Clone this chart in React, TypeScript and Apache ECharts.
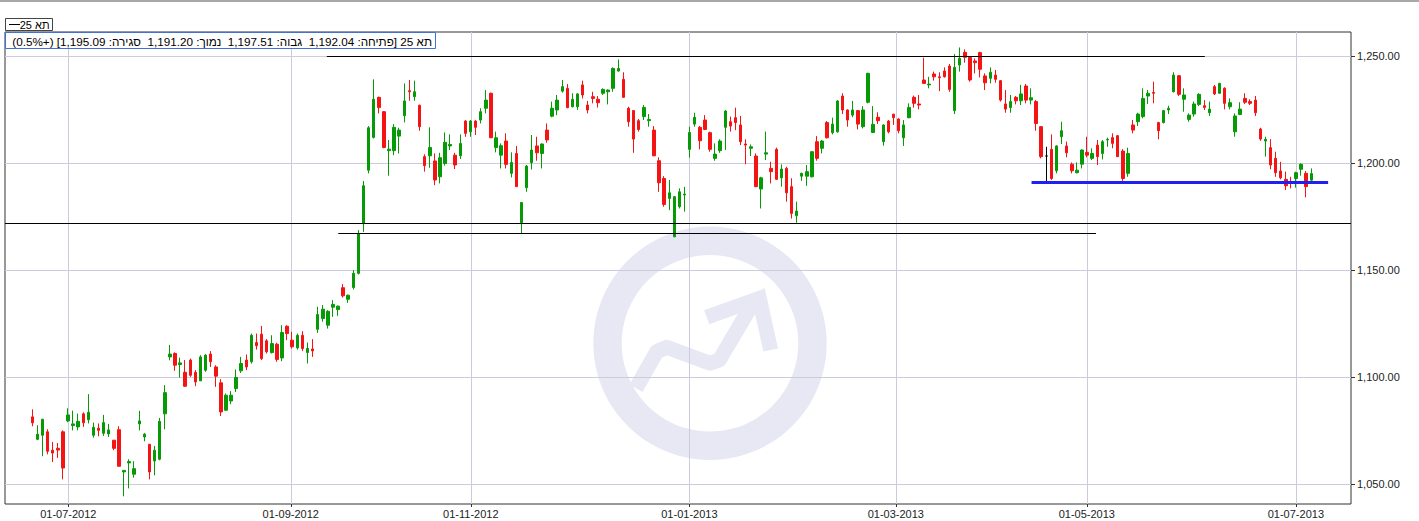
import React, { useEffect, useRef } from 'react';
import * as echarts from 'echarts';

// ---- Data (TA-25 daily candles) ----
const seriesName = 'תא 25';

const opens = [
  1081.5, 1071.0, 1072.9, 1074.5, 1065.9, 1066.8, 1074.5, 1079.6, 1077.4, 1076.8,
  1082.9, 1080.1, 1072.9, 1076.2, 1073.8, 1073.5, 1070.6, 1075.5, 1055.8, 1060.0,
  1054.7, 1078.2, 1072.1, 1068.7, 1060.9, 1061.7, 1082.9, 1109.5, 1111.1, 1105.9,
  1102.3, 1108.0, 1102.3, 1098.3, 1103.3, 1110.8, 1104.8, 1097.4, 1084.6, 1088.9,
  1094.7, 1103.0, 1108.0, 1107.2, 1116.2, 1120.1, 1117.0, 1111.5, 1115.4, 1109.0,
  1123.8, 1117.3, 1113.7, 1119.6, 1111.5, 1113.2, 1122.4, 1127.4, 1124.3, 1132.7,
  1131.6, 1141.8, 1136.4, 1141.9, 1148.5, 1171.8, 1196.7, 1212.0, 1230.7, 1224.0,
  1205.8, 1205.8, 1212.6, 1222.1, 1233.8, 1231.0, 1227.0, 1203.0, 1203.4, 1201.0,
  1193.6, 1199.8, 1208.0, 1203.7, 1203.4, 1219.6, 1214.6, 1219.6, 1220.1, 1225.6,
  1232.6, 1207.3, 1203.7, 1210.3, 1195.2, 1204.5, 1172.1, 1188.5, 1200.2, 1208.0,
  1204.5, 1215.4, 1221.9, 1224.8, 1233.6, 1234.9, 1226.3, 1226.3, 1236.5, 1227.1,
  1231.0, 1229.8, 1232.6, 1233.3, 1234.9, 1243.0, 1239.1, 1225.6, 1224.5, 1219.8,
  1221.7, 1219.8, 1215.4, 1201.1, 1192.8, 1183.5, 1165.6, 1179.6, 1185.1, 1206.4,
  1218.2, 1216.7, 1220.1, 1214.2, 1202.2, 1205.8, 1216.7, 1219.3, 1221.2, 1217.8,
  1208.9, 1206.9, 1203.3, 1187.9, 1204.2, 1197.5, 1206.4, 1193.1, 1197.5, 1189.0,
  1175.4, 1193.9, 1193.9, 1193.6, 1210.0, 1206.9, 1218.9, 1214.2, 1214.6, 1231.3,
  1224.8, 1222.4, 1224.5, 1217.0, 1228.4, 1214.3, 1221.4, 1210.0, 1219.6, 1222.8,
  1220.6, 1211.8, 1221.2, 1230.7, 1227.6, 1238.8, 1236.5, 1241.6, 1240.3, 1243.0,
  1245.3, 1224.5, 1245.8, 1251.7, 1249.4, 1247.7, 1251.6, 1240.7, 1239.6, 1241.1,
  1238.5, 1227.6, 1225.9, 1230.7, 1229.1, 1236.0, 1229.4, 1228.7, 1217.0, 1203.3,
  1206.4, 1196.4, 1212.3, 1208.0, 1199.5, 1195.5, 1199.5, 1205.0, 1202.2, 1208.4,
  1204.5, 1210.8, 1211.9, 1212.8, 1205.6, 1195.2, 1217.8, 1219.3, 1221.7, 1231.3,
  1233.0, 1218.9, 1218.9, 1224.8, 1233.3, 1240.8, 1229.8, 1220.4, 1222.9, 1227.4,
  1226.8, 1223.5, 1235.7, 1232.6, 1234.9, 1226.3, 1214.6, 1222.7, 1230.2, 1228.7,
  1229.4, 1215.9, 1210.3, 1207.2, 1202.2, 1196.3, 1192.4, 1191.3, 1192.8, 1197.1,
  1195.2, 1192.04,
];

const closes = [
  1078.7, 1073.4, 1080.4, 1065.4, 1064.6, 1066.0, 1057.6, 1082.4, 1078.2, 1079.4,
  1078.7, 1083.6, 1076.6, 1075.2, 1078.8, 1075.4, 1066.8, 1058.4, 1056.5, 1060.6,
  1057.3, 1079.6, 1073.4, 1055.8, 1065.9, 1079.4, 1092.8, 1110.8, 1105.6, 1106.7,
  1095.8, 1100.9, 1097.8, 1109.5, 1110.3, 1107.2, 1100.5, 1083.8, 1091.6, 1091.6,
  1099.9, 1106.4, 1104.8, 1119.6, 1114.7, 1108.7, 1111.9, 1115.7, 1108.3, 1120.9,
  1120.4, 1114.2, 1119.6, 1113.4, 1113.4, 1112.3, 1129.3, 1131.8, 1130.8, 1134.0,
  1133.2, 1138.0, 1138.3, 1148.5, 1167.1, 1189.4, 1216.5, 1229.8, 1225.9, 1207.3,
  1206.5, 1216.7, 1215.4, 1229.0, 1233.3, 1233.3, 1217.0, 1198.8, 1207.3, 1192.1,
  1202.5, 1209.7, 1208.7, 1199.1, 1209.2, 1213.9, 1219.6, 1216.7, 1224.0, 1229.4,
  1211.8, 1211.8, 1208.1, 1199.4, 1200.3, 1189.0, 1181.6, 1198.6, 1206.1, 1204.8,
  1208.9, 1210.8, 1225.6, 1229.4, 1235.7, 1225.9, 1229.8, 1232.3, 1231.8, 1224.8,
  1230.2, 1228.2, 1234.4, 1234.1, 1244.2, 1244.2, 1230.7, 1219.3, 1211.2, 1215.7,
  1226.0, 1220.4, 1203.4, 1190.8, 1180.7, 1186.1, 1184.3, 1186.6, 1185.5, 1214.3,
  1221.4, 1210.4, 1215.7, 1206.4, 1204.2, 1210.3, 1224.3, 1217.3, 1218.9, 1210.0,
  1208.4, 1207.6, 1189.0, 1193.1, 1204.8, 1196.0, 1192.4, 1197.2, 1186.1, 1176.5,
  1177.6, 1195.2, 1196.0, 1205.3, 1202.2, 1210.3, 1211.8, 1218.2, 1229.0, 1224.8,
  1220.1, 1224.8, 1218.2, 1224.8, 1241.9, 1218.1, 1219.8, 1217.8, 1214.6, 1221.2,
  1215.1, 1217.8, 1226.0, 1227.9, 1227.1, 1237.2, 1236.9, 1240.3, 1239.9, 1240.3,
  1234.4, 1244.7, 1248.9, 1249.4, 1238.8, 1246.9, 1243.8, 1237.5, 1242.4, 1239.1,
  1229.4, 1225.2, 1228.7, 1229.1, 1232.3, 1229.4, 1230.5, 1218.5, 1203.0, 1203.3,
  1192.8, 1208.0, 1215.1, 1204.8, 1196.4, 1196.7, 1206.1, 1203.7, 1204.5, 1203.0,
  1210.0, 1211.1, 1209.2, 1203.0, 1192.8, 1204.5, 1215.4, 1222.9, 1230.2, 1232.6,
  1232.6, 1215.1, 1224.5, 1225.6, 1241.1, 1232.1, 1231.8, 1222.4, 1227.6, 1232.1,
  1226.0, 1225.2, 1232.3, 1237.2, 1227.9, 1228.2, 1222.0, 1225.2, 1228.4, 1227.9,
  1223.5, 1211.2, 1211.1, 1199.1, 1195.5, 1193.1, 1189.4, 1190.5, 1195.5, 1199.4,
  1189.0, 1195.09,
];

const lows = [
  1077.1, 1070.6, 1063.1, 1064.0, 1060.4, 1062.3, 1052.3, 1079.0, 1075.2, 1075.2,
  1076.8, 1078.4, 1071.8, 1072.4, 1072.6, 1072.1, 1065.9, 1058.4, 1044.4, 1048.1,
  1053.1, 1075.2, 1070.1, 1052.3, 1054.2, 1061.2, 1075.7, 1107.9, 1103.0, 1099.8,
  1095.5, 1100.2, 1095.8, 1098.3, 1102.5, 1104.8, 1095.5, 1081.9, 1084.3, 1087.4,
  1093.1, 1102.0, 1103.3, 1106.4, 1112.9, 1108.0, 1111.1, 1111.1, 1107.2, 1107.5,
  1117.3, 1113.4, 1112.9, 1112.2, 1106.4, 1109.5, 1120.7, 1125.9, 1122.7, 1128.2,
  1128.7, 1137.2, 1134.7, 1141.0, 1148.0, 1167.9, 1195.2, 1211.5, 1223.2, 1206.9,
  1194.1, 1203.7, 1204.5, 1219.0, 1229.1, 1229.1, 1215.1, 1196.0, 1197.8, 1189.7,
  1190.5, 1198.8, 1206.1, 1197.2, 1201.9, 1212.3, 1212.3, 1213.1, 1218.5, 1223.2,
  1211.8, 1205.0, 1197.5, 1197.5, 1193.3, 1189.0, 1167.1, 1186.6, 1197.0, 1201.1,
  1197.5, 1209.5, 1221.4, 1222.4, 1232.9, 1225.6, 1226.0, 1224.8, 1230.2, 1223.2,
  1227.9, 1225.9, 1231.8, 1227.4, 1233.3, 1242.7, 1230.5, 1217.0, 1204.8, 1214.7,
  1220.1, 1217.0, 1203.2, 1186.6, 1179.6, 1178.0, 1165.4, 1178.8, 1177.3, 1202.5,
  1217.0, 1206.4, 1215.4, 1205.3, 1201.1, 1204.8, 1206.1, 1214.7, 1215.4, 1208.4,
  1199.5, 1203.3, 1188.8, 1178.8, 1201.4, 1190.5, 1192.1, 1189.0, 1182.0, 1174.1,
  1172.1, 1191.7, 1189.4, 1193.3, 1201.1, 1204.5, 1211.5, 1213.4, 1214.2, 1222.9,
  1217.0, 1221.4, 1215.7, 1216.2, 1227.9, 1214.2, 1218.2, 1208.1, 1213.9, 1217.8,
  1213.9, 1208.0, 1220.9, 1225.9, 1225.1, 1237.0, 1234.9, 1238.5, 1233.6, 1239.9,
  1233.3, 1222.9, 1242.7, 1246.9, 1238.0, 1241.9, 1240.0, 1234.1, 1237.2, 1237.5,
  1228.7, 1223.5, 1223.5, 1227.4, 1227.1, 1227.9, 1227.4, 1215.1, 1202.2, 1190.8,
  1192.1, 1195.2, 1208.9, 1202.7, 1195.2, 1195.2, 1197.5, 1202.7, 1201.4, 1199.1,
  1201.7, 1207.6, 1206.9, 1203.0, 1191.7, 1193.6, 1213.9, 1217.3, 1220.9, 1227.6,
  1227.9, 1211.1, 1218.5, 1222.9, 1233.0, 1231.3, 1224.0, 1219.3, 1221.7, 1226.6,
  1224.8, 1222.0, 1231.8, 1232.3, 1225.1, 1225.1, 1212.3, 1222.4, 1227.6, 1227.1,
  1222.0, 1210.4, 1203.0, 1197.1, 1193.6, 1192.4, 1187.4, 1188.2, 1188.5, 1194.1,
  1184.0, 1191.2,
];

const highs = [
  1085.0, 1077.6, 1080.4, 1075.7, 1069.8, 1069.3, 1075.2, 1085.5, 1084.4, 1083.0,
  1083.6, 1092.1, 1078.8, 1078.4, 1082.4, 1078.2, 1070.6, 1077.1, 1056.5, 1061.7,
  1060.8, 1084.3, 1074.0, 1068.7, 1067.9, 1081.0, 1096.3, 1115.1, 1111.6, 1109.2,
  1108.0, 1108.7, 1103.3, 1110.3, 1110.8, 1112.2, 1105.6, 1099.1, 1092.4, 1093.5,
  1103.6, 1109.5, 1110.6, 1120.4, 1120.4, 1124.0, 1117.8, 1119.6, 1116.1, 1124.3,
  1124.3, 1121.2, 1120.4, 1121.5, 1116.2, 1117.8, 1132.9, 1133.7, 1131.3, 1136.0,
  1133.5, 1143.5, 1138.6, 1150.0, 1168.7, 1191.6, 1217.3, 1239.1, 1231.0, 1224.3,
  1210.8, 1218.2, 1216.5, 1237.2, 1238.8, 1238.5, 1227.3, 1204.1, 1216.7, 1204.5,
  1204.8, 1214.3, 1213.4, 1204.8, 1213.4, 1220.1, 1220.1, 1220.1, 1225.6, 1234.1,
  1232.9, 1214.7, 1209.2, 1213.9, 1205.0, 1208.0, 1181.6, 1199.1, 1213.1, 1212.3,
  1209.2, 1218.5, 1228.7, 1231.8, 1238.8, 1236.9, 1232.6, 1232.6, 1238.5, 1229.0,
  1233.3, 1231.3, 1234.9, 1234.4, 1244.7, 1248.4, 1242.4, 1226.3, 1224.8, 1220.6,
  1227.1, 1222.9, 1217.3, 1202.7, 1193.9, 1192.1, 1184.6, 1188.2, 1188.9, 1217.0,
  1223.5, 1217.3, 1222.4, 1214.7, 1209.2, 1211.1, 1224.8, 1221.7, 1225.9, 1222.0,
  1211.1, 1208.7, 1204.5, 1193.6, 1214.7, 1200.6, 1207.2, 1199.4, 1198.3, 1192.9,
  1182.0, 1195.5, 1199.1, 1205.6, 1212.6, 1210.8, 1219.6, 1221.2, 1229.4, 1232.6,
  1225.1, 1229.0, 1224.8, 1226.6, 1242.2, 1226.6, 1223.7, 1218.1, 1220.1, 1223.1,
  1220.9, 1220.1, 1227.9, 1231.5, 1231.8, 1249.2, 1240.3, 1242.7, 1242.4, 1244.7,
  1246.3, 1250.9, 1254.0, 1253.1, 1249.7, 1248.9, 1252.0, 1241.9, 1244.7, 1243.5,
  1238.8, 1234.1, 1231.8, 1231.3, 1236.5, 1236.9, 1234.9, 1229.4, 1217.3, 1207.6,
  1213.4, 1208.3, 1219.3, 1210.0, 1200.3, 1200.3, 1206.4, 1212.3, 1206.9, 1210.8,
  1210.8, 1211.9, 1213.9, 1213.1, 1206.5, 1207.2, 1220.1, 1223.5, 1234.9, 1234.1,
  1238.0, 1219.3, 1224.8, 1226.8, 1242.4, 1241.1, 1234.9, 1223.2, 1228.7, 1232.6,
  1229.4, 1228.7, 1236.5, 1237.5, 1235.4, 1230.2, 1223.2, 1228.4, 1232.6, 1229.8,
  1231.3, 1216.5, 1212.3, 1211.2, 1205.3, 1200.6, 1196.0, 1193.6, 1196.0, 1199.9,
  1196.3, 1197.51,
];

// candle drawn in black (marked bar)
const markedCandle = 199;

// x-axis date labels and where they fall on the trading-day index
const xTickLabels = ['01-07-2012', '01-09-2012', '01-11-2012', '01-01-2013', '01-03-2013', '01-05-2013', '01-07-2013'];
const xTickIndex = [7.07, 50.72, 86.05, 128.95, 169.46, 206.95, 247.97];

// y-axis tick values
const yTicks = [1050, 1100, 1150, 1200, 1250];

// drawn trend / support lines: [fromIndex, toIndex, level]
const resistanceLine = [57.8, 230.1, 1249.8];
const supportLineA = [-5.36, 258.79, 1172.0];
const supportLineB = [60.05, 208.75, 1167.1];
const blueSupport = [196.1, 254.3, 1191.0];

const fmt = (v: number) =>
  v.toLocaleString('en-US', { minimumFractionDigits: 2, maximumFractionDigits: 2 });

export default function App() {
  const ref = useRef<HTMLDivElement>(null);

  useEffect(() => {
    document.body.style.margin = '0';
    const chart = echarts.init(ref.current!, null, { renderer: 'svg', width: 1419, height: 521 });

    const UP = '#069a06';
    const DOWN = '#f41414';
    const data = opens.map((o, i) => {
      const v = [i, o, closes[i], lows[i], highs[i]];
      if (i === markedCandle) {
        return {
          value: v,
          itemStyle: { color: '#000', color0: '#000', borderColor: '#000', borderColor0: '#000' },
        };
      }
      return v;
    });

    const n = opens.length;
    const lo = opens[n - 1], hi = highs[n - 1], lw = lows[n - 1], cl = closes[n - 1];
    const chg = ((cl / closes[n - 2] - 1) * 100).toFixed(1);
    const infoText = `${seriesName} [פתיחה: ${fmt(lo)}  גבוה: ${fmt(hi)}  נמוך: ${fmt(lw)}  סגירה: ${fmt(cl)}] (+${chg}%)`;

    const wm = '#e8e8f4';
    const font = '11px Arial, "Liberation Sans", sans-serif';
    const legendFont = '11.7px Arial, "Liberation Sans", sans-serif';

    const lineItem = (l: number[], style: any) => [
      { coord: [l[0], l[2]], lineStyle: style },
      { coord: [l[1], l[2]] },
    ];

    chart.setOption({
      animation: false,
      backgroundColor: '#ffffff',
      grid: {
        left: 5,
        right: 68,
        top: 32,
        bottom: 17,
        show: true,
        borderColor: '#333',
        borderWidth: 1,
        backgroundColor: 'transparent',
      },
      xAxis: {
        type: 'value',
        min: -5.36,
        max: 258.79,
        axisLine: { show: false, onZero: false },
        axisTick: { show: true, length: 3, customValues: xTickIndex, lineStyle: { color: '#333' } },
        axisLabel: {
          customValues: xTickIndex,
          formatter: (v: number) => {
            const j = xTickIndex.findIndex((t) => Math.abs(t - v) < 1e-6);
            return j >= 0 ? xTickLabels[j] : '';
          },
          color: '#222',
          fontSize: 11,
          fontFamily: 'Arial, "Liberation Sans", sans-serif',
          margin: 4,
        },
        splitLine: { show: true, lineStyle: { color: '#cbcbdb', width: 1 } },
      },
      yAxis: {
        type: 'value',
        position: 'right',
        min: 1040.8,
        max: 1261.21,
        axisLine: { show: false, onZero: false },
        axisTick: { show: true, length: 4, customValues: yTicks, lineStyle: { color: '#333' } },
        axisLabel: {
          customValues: yTicks,
          formatter: (v: number) => fmt(v),
          color: '#222',
          fontSize: 11,
          fontFamily: 'Arial, "Liberation Sans", sans-serif',
          margin: 6,
        },
        splitLine: { show: true, lineStyle: { color: '#cbcbdb', width: 1 } },
      },
      series: [
        {
          type: 'candlestick',
          name: seriesName,
          encode: { x: 0, y: [1, 2, 3, 4] },
          barWidth: 3,
          itemStyle: {
            color: UP,
            color0: DOWN,
            borderColor: UP,
            borderColor0: DOWN,
            borderWidth: 1,
          },
          data,
          markLine: {
            silent: true,
            symbol: 'none',
            label: { show: false },
            lineStyle: { color: '#000', width: 1, type: 'solid' },
            data: [
              lineItem(resistanceLine, { color: '#000', width: 1, type: 'solid' }),
              lineItem(supportLineA, { color: '#000', width: 1, type: 'solid' }),
              lineItem(supportLineB, { color: '#000', width: 1, type: 'solid' }),
              lineItem(blueSupport, { color: '#2020f2', width: 3, type: 'solid' }),
            ],
          },
        },
      ],
      graphic: [
        { type: 'rect', z: 50, silent: true, shape: { x: 0, y: 0, width: 1419, height: 2 }, style: { fill: '#a8a8a8' } },
        // watermark
        { type: 'ring', z: -1, silent: true, shape: { cx: 710, cy: 343.3, r: 116.7, r0: 88.3 }, style: { fill: wm } },
        {
          type: 'polyline', z: -1, silent: true,
          shape: { points: [[636, 388.3], [656.7, 351.7], [666.7, 347.3], [710, 363.3], [719.3, 360], [753, 303]] },
          style: { stroke: wm, lineWidth: 15, fill: null, lineJoin: 'round' },
        },
        {
          type: 'polyline', z: -1, silent: true,
          shape: { points: [[706.7, 317.3], [759.3, 298.3], [770.7, 350]] },
          style: { stroke: wm, lineWidth: 15, fill: null, lineJoin: 'miter' },
        },
        // legend box 1
        { type: 'rect', z: 100, silent: true, shape: { x: 5.5, y: 18.5, width: 47, height: 12 }, style: { fill: '#fff', stroke: '#444', lineWidth: 1 } },
        { type: 'line', z: 101, silent: true, shape: { x1: 9, y1: 24.5, x2: 20, y2: 24.5 }, style: { stroke: '#000', lineWidth: 1 } },
        {
          type: 'text', z: 101, silent: true, x: 49.5, y: 25,
          style: { text: '\u202B' + seriesName + '\u202C', font, fill: '#000', align: 'right', verticalAlign: 'middle', textAlign: 'right', textVerticalAlign: 'middle' },
        },
        // legend box 2 (values)
        { type: 'rect', z: 100, silent: true, shape: { x: 5.5, y: 32.5, width: 430, height: 16 }, style: { fill: '#fff', stroke: '#3f72d6', lineWidth: 1 } },
        {
          type: 'text', z: 101, silent: true, x: 432, y: 41,
          style: { text: '\u202B' + infoText + '\u202C', font: legendFont, fill: '#000', align: 'right', verticalAlign: 'middle', textAlign: 'right', textVerticalAlign: 'middle' },
        },
      ],
    });

    return () => chart.dispose();
  }, []);

  return (
    <div
      ref={ref}
      style={{ position: 'absolute', left: 0, top: 0, width: 1419, height: 521, background: '#fff' }}
    />
  );
}
